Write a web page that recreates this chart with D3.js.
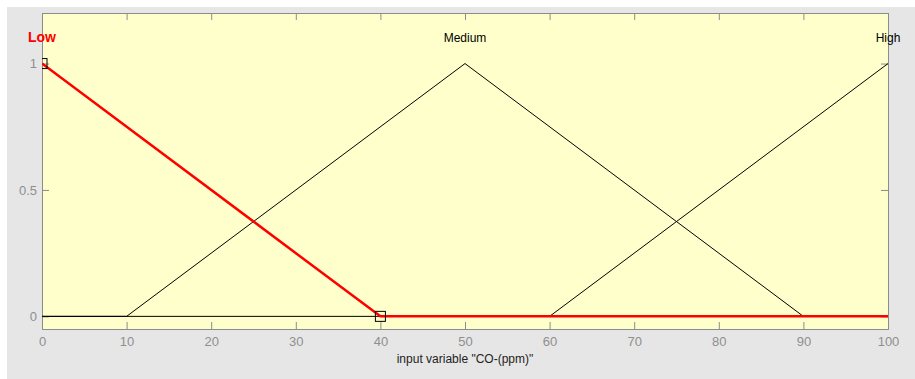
<!DOCTYPE html>
<html>
<head>
<meta charset="utf-8">
<script src="https://cdn.jsdelivr.net/npm/d3@7"></script>
<style>
  body { margin: 0; background: #fff; }
  svg { display: block; font-family: "Liberation Sans", Arial, sans-serif; }
</style>
</head>
<body>
<svg width="915" height="379"></svg>
<script>
// membership functions of input "CO-(ppm)"
let mfNames = ['Low', 'Medium', 'High']
let mfX = [[0, 0, 40, 100], [0, 10, 50, 90, 100], [0, 60, 100]]
let mfY = [[1, 1, 0, 0], [0, 0, 1, 0, 0], [0, 0, 1]]
let peaks = [0, 50, 100]
let xTicks = [0, 10, 20, 30, 40, 50, 60, 70, 80, 90, 100]
let yTicks = [0, 0.5, 1]
let selected = 0   // Low is highlighted
let handles = [[0, 1], [40, 0]]

let svg = d3.select('svg')

svg.append('rect').attr('x', 7).attr('y', 7).attr('width', 908).attr('height', 372).attr('fill', '#e6e6e6')

let pLeft = 42, pTop = 13, pRight = 888, pBottom = 329

let x = d3.scaleLinear().domain([0, 100]).range([pLeft, pRight])
let y = d3.scaleLinear().domain([-0.05, 1.2]).range([pBottom, pTop])

svg.append('defs').append('clipPath').attr('id', 'plot')
    .append('rect')
    .attr('x', pLeft).attr('y', pTop)
    .attr('width', pRight - pLeft).attr('height', pBottom - pTop)

svg.append('rect')
    .attr('x', pLeft).attr('y', pTop)
    .attr('width', pRight - pLeft).attr('height', pBottom - pTop)
    .attr('fill', '#ffffcc')

let tickCol = '#8c8c8c'

// axes with inward ticks
let bottomAxis = svg.append('g').attr('transform', `translate(0,${pBottom})`)
    .call(d3.axisBottom(x).tickValues(xTicks).tickSize(-7).tickPadding(8).tickFormat(d3.format('d')))
let topAxis = svg.append('g').attr('transform', `translate(0,${pTop})`)
    .call(d3.axisTop(x).tickValues(xTicks).tickSize(-7).tickFormat(''))
let leftAxis = svg.append('g').attr('transform', `translate(${pLeft},0)`)
    .call(d3.axisLeft(y).tickValues(yTicks).tickSize(-7).tickPadding(5).tickFormat(d => d))
let rightAxis = svg.append('g').attr('transform', `translate(${pRight},0)`)
    .call(d3.axisRight(y).tickValues(yTicks).tickSize(-7).tickFormat(''))

for (let a of [bottomAxis, topAxis, leftAxis, rightAxis]) {
    a.select('.domain').attr('stroke', tickCol)
    a.selectAll('.tick line').attr('stroke', tickCol)
    a.selectAll('.tick text').attr('fill', '#8f8f8f').attr('font-size', 13)
        .attr('font-family', '"Liberation Sans", Arial, sans-serif')
}

svg.append('text')
    .attr('x', x(50)).attr('y', 363)
    .attr('text-anchor', 'middle')
    .attr('font-size', 12)
    .attr('fill', '#222')
    .text('input variable "CO-(ppm)"')

let line = d3.line().x(d => x(d[0])).y(d => y(d[1]))

let plot = svg.append('g').attr('clip-path', 'url(#plot)')

// black lines first, selected one on top
let order = d3.range(mfNames.length).sort((a, b) => (a === selected) - (b === selected))

plot.selectAll('path.mf')
    .data(order)
    .enter()
    .append('path')
    .attr('class', 'mf')
    .attr('d', i => line(d3.zip(mfX[i], mfY[i])))
    .attr('fill', 'none')
    .attr('stroke', i => i === selected ? '#ff0000' : '#000')
    .attr('stroke-width', i => i === selected ? 2.5 : 1)

plot.selectAll('rect.handle')
    .data(handles)
    .enter()
    .append('rect')
    .attr('class', 'handle')
    .attr('x', d => x(d[0]) - 5)
    .attr('y', d => y(d[1]) - 5)
    .attr('width', 10).attr('height', 10)
    .attr('fill', 'none')
    .attr('stroke', '#000')
    .attr('stroke-width', 1)

svg.selectAll('text.mfname')
    .data(mfNames)
    .enter()
    .append('text')
    .attr('class', 'mfname')
    .attr('x', (d, i) => x(peaks[i]))
    .attr('y', y(1.1) + 3.5)
    .attr('text-anchor', 'middle')
    .attr('font-size', (d, i) => i === selected ? 14 : 12)
    .attr('font-weight', (d, i) => i === selected ? 'bold' : 'normal')
    .attr('fill', (d, i) => i === selected ? '#ff0000' : '#000')
    .text(d => d)
</script>
</body>
</html>
